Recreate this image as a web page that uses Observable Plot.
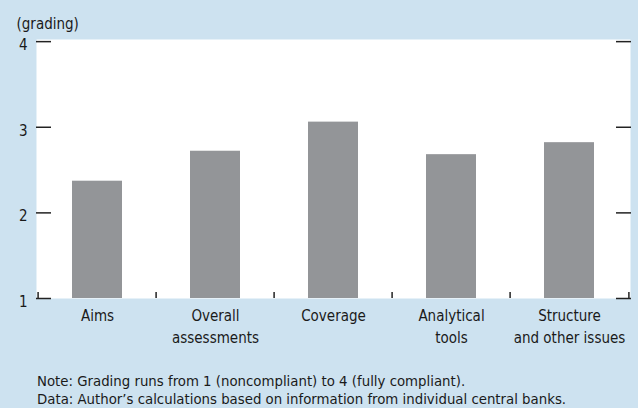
<!DOCTYPE html>
<html>
<head>
<meta charset="utf-8">
<script src="https://cdn.jsdelivr.net/npm/d3@7"></script>
<script src="https://cdn.jsdelivr.net/npm/@observablehq/plot@0.6"></script>
<style>
  html, body { margin: 0; padding: 0; background: #cde2f0; }
  body { width: 638px; height: 408px; overflow: hidden; font-family: "DejaVu Sans Condensed", "Liberation Sans Narrow", sans-serif; }
  #chart svg { display: block; }
  .caption { color: #1a1a1a; font-size: 14.8px; line-height: 18px; padding-left: 37px; padding-top: 22px; }
</style>
</head>
<body>
<div id="chart"></div>
<div class="caption">
  <div id="note"></div>
  <div id="source"></div>
</div>
<script>
const categories = ["Aims", "Overall assessments", "Coverage", "Analytical tools", "Structure and other issues"];
const tickLabels = ["Aims", "Overall\nassessments", "Coverage", "Analytical\ntools", "Structure\nand other issues"];
const grades = [2.37, 2.72, 3.06, 2.68, 2.82];
const yTicks = [1, 2, 3, 4];
const unitLabel = "(grading)";
const noteText = "Note: Grading runs from 1 (noncompliant) to 4 (fully compliant).";
const sourceText = "Data: Author\u2019s calculations based on information from individual central banks.";

const data = categories.map((c, i) => ({category: c, grade: grades[i]}));
const labelOf = new Map(categories.map((c, i) => [c, tickLabels[i]]));

const W = 638, H = 350;
const mL = 36, mR = 8, mT = 39, mB = 52;
const halfStep = (W - mL - mR) / categories.length / 2;
const font = "\"DejaVu Sans Condensed\", \"Liberation Sans Narrow\", sans-serif";

const plot = Plot.plot({
  width: W,
  height: H,
  marginLeft: mL,
  marginRight: mR,
  marginTop: mT,
  marginBottom: mB,
  style: {background: "transparent", fontFamily: font, fontSize: "15px", color: "#1a1a1a"},
  x: {type: "band", domain: categories, paddingInner: 0.58, paddingOuter: 0.29, label: null},
  y: {domain: [1, 4.025], label: null},
  marks: [
    Plot.frame({fill: "white", stroke: null}),
    Plot.barY(data, {x: "category", y1: 1, y2: "grade", fill: "#939598"}),
    // y ticks, inward, both sides
    Plot.axisY({anchor: "left", ticks: yTicks, tickSize: -15, tickFormat: () => "", stroke: "#222", strokeWidth: 1.5, label: null}),
    Plot.axisY({anchor: "right", ticks: yTicks, tickSize: -15, tickFormat: () => "", stroke: "#222", strokeWidth: 1.5, label: null}),
    Plot.axisY({anchor: "left", ticks: yTicks, tickSize: 0, tickPadding: 9, dy: 3.5, tickFormat: d3.format("d"), fontSize: 15, fill: "#1a1a1a", label: null}),
    // category boundary ticks
    Plot.ruleX(categories, {x: d => d, y1: 1, y2: 1.07, dx: -halfStep, stroke: "#222", strokeWidth: 1.5}),
    Plot.ruleX([categories[categories.length - 1]], {x: d => d, y1: 1, y2: 1.07, dx: halfStep, stroke: "#222", strokeWidth: 1.5}),
    // category labels
    Plot.axisX({anchor: "bottom", tickSize: 0, tickPadding: 7, tickFormat: d => labelOf.get(d), fontSize: 15, lineHeight: 1.45, fill: "#1a1a1a", label: null}),
    // unit label
    Plot.text([unitLabel], {frameAnchor: "top-left", dx: -20, dy: -21, text: d => d, textAnchor: "start", fontSize: 15, fill: "#1a1a1a"})
  ]
});
document.getElementById("chart").appendChild(plot);
document.getElementById("note").textContent = noteText;
document.getElementById("source").textContent = sourceText;
</script>
</body>
</html>
